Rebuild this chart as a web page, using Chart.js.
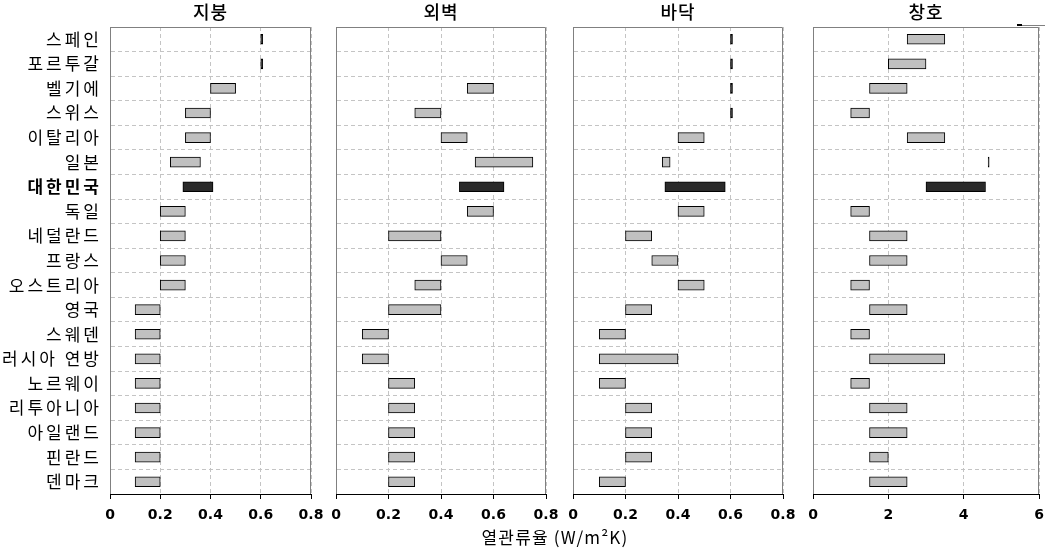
<!DOCTYPE html>
<html><head><meta charset="utf-8">
<script src="https://cdn.jsdelivr.net/npm/chart.js@4.4.1/dist/chart.umd.min.js"></script>
<style>
html,body{margin:0;padding:0;background:#fff;}
#wrap{position:relative;width:1045px;height:549px;overflow:hidden;background:#fff;}
canvas{position:absolute;top:0;}
.ttl{position:absolute;top:0;font-family:"Noto Sans CJK KR","Noto Sans",sans-serif;font-size:18px;font-weight:500;line-height:22px;text-align:center;color:#000;letter-spacing:1px;}
#xt{position:absolute;left:430px;width:250px;top:526px;font-family:"Noto Sans CJK KR","Noto Sans",sans-serif;font-size:17px;line-height:22px;text-align:center;color:#000;letter-spacing:1.2px;}
#lg{position:absolute;left:1017px;top:25px;width:28px;height:1px;background:#808080;}
#lg2{position:absolute;left:1017px;top:24px;width:5px;height:2px;background:#000;}
</style></head>
<body><div id="wrap">
<canvas id="c1" width="335" height="549" style="left:0px"></canvas>
<canvas id="c2" width="240" height="549" style="left:326px"></canvas>
<canvas id="c3" width="240" height="549" style="left:563px"></canvas>
<canvas id="c4" width="252" height="549" style="left:803px"></canvas>
<div class="ttl" style="left:110px;width:201px">지붕</div>
<div class="ttl" style="left:336px;width:210px">외벽</div>
<div class="ttl" style="left:573px;width:210px">바닥</div>
<div class="ttl" style="left:813px;width:226px">창호</div>
<div id="xt">열관류율 (W/m²K)</div>
<div id="lg"></div><div id="lg2"></div>
</div>
<script>
const categories = ['스페인','포르투갈','벨기에','스위스','이탈리아','일본','대한민국','독일','네덜란드','프랑스','오스트리아','영국','스웨덴','러시아 연방','노르웨이','리투아니아','아일랜드','핀란드','덴마크'];
const roofMin  = [0.6,0.6,0.4,0.3,0.3,0.24,0.29,0.2,0.2,0.2,0.2,0.1,0.1,0.1,0.1,0.1,0.1,0.1,0.1];
const roofMax  = [0.6,0.6,0.5,0.4,0.4,0.36,0.41,0.3,0.3,0.3,0.3,0.2,0.2,0.2,0.2,0.2,0.2,0.2,0.2];
const wallMin  = [null,null,0.5,0.3,0.4,0.53,0.47,0.5,0.2,0.4,0.3,0.2,0.1,0.1,0.2,0.2,0.2,0.2,0.2];
const wallMax  = [null,null,0.6,0.4,0.5,0.75,0.64,0.6,0.4,0.5,0.4,0.4,0.2,0.2,0.3,0.3,0.3,0.3,0.3];
const floorMin = [0.6,0.6,0.6,0.6,0.4,0.34,0.35,0.4,0.2,0.3,0.4,0.2,0.1,0.1,0.1,0.2,0.2,0.2,0.1];
const floorMax = [0.6,0.6,0.6,0.6,0.5,0.37,0.58,0.5,0.3,0.4,0.5,0.3,0.2,0.4,0.2,0.3,0.3,0.3,0.2];
const winMin   = [2.5,2.0,1.5,1.0,2.5,4.65,3.0,1.0,1.5,1.5,1.0,1.5,1.0,1.5,1.0,1.5,1.5,1.5,1.5];
const winMax   = [3.5,3.0,2.5,1.5,3.5,4.65,4.58,1.5,2.5,2.5,1.5,2.5,1.5,3.5,1.5,2.5,2.5,2.0,2.5];
const roofTicks = ['0','0.2','0.4','0.6','0.8'];
const winTicks = ['0','2','4','6'];
const highlight = '대한민국';

const frame = {
  id:'frame',
  afterDatasetsDraw(chart){
    chart.ctx.letterSpacing = '3px';
  },
  afterDraw(chart){
    const a = chart.chartArea, ctx = chart.ctx;
    ctx.letterSpacing = '0px';
    ctx.save();
    ctx.strokeStyle = '#808080'; ctx.lineWidth = 1;
    ctx.beginPath();
    ctx.moveTo(a.left+0.5, a.bottom); ctx.lineTo(a.left+0.5, a.top+0.5);
    ctx.lineTo(a.right-0.5, a.top+0.5); ctx.lineTo(a.right-0.5, a.bottom);
    ctx.stroke();
    ctx.strokeStyle = '#000';
    ctx.beginPath(); ctx.moveTo(a.left, a.bottom+0.5); ctx.lineTo(a.right, a.bottom+0.5); ctx.stroke();
    ctx.restore();
  }
};

function makeChart(id, mins, maxs, maxX, step, showLabels, pad, minLen){
  const data = mins.map((v,i)=> v===null ? null : [v, maxs[i]]);
  new Chart(document.getElementById(id), {
    type:'bar',
    data:{labels:categories, datasets:[{
      data,
      backgroundColor: c => {
        const i = c.dataIndex;
        if (mins[i]!==null && mins[i]===maxs[i]) return '#000';
        return categories[i]===highlight ? '#2a2a2a' : '#c0c0c0';
      },
      borderColor:'#000', borderWidth:1, borderSkipped:false,
      barThickness:10, minBarLength:minLen
    }]},
    options:{
      indexAxis:'y', responsive:false, animation:false,
      layout:{padding:{left:pad[0], right:pad[1], top:27, bottom:0}},
      plugins:{legend:{display:false}, tooltip:{enabled:false}, title:{display:false}},
      scales:{
        x:{min:0, max:maxX, ticks:{stepSize:step, color:'#000', padding:4,
             font:{family:'DejaVu Sans', size:14, weight:'bold', lineHeight:1.7}},
           grid:{color:'#c4c4c4', tickColor:'#000', tickLength:5, drawTicks:true},
           border:{display:true, color:'#000', dash:[4,3]},
           afterFit:s=>{s.height=55;}},
        y:{ticks:{z:1, display:showLabels, color:'#000', padding:8,
             font: c => ({family:'"Noto Sans CJK KR"', size:17, weight: (c.tick && c.tick.label===highlight) ? 'bold':'normal'})},
           grid:{color:'#c4c4c4', drawTicks:false},
           border:{display:true, color:'#808080', dash:[4,3]},
           afterFit:s=>{s.width= showLabels ? 110 : 0;}}
      }
    },
    plugins:[frame]
  });
}
makeChart('c1', roofMin, roofMax, 0.8, 0.2, true, [0,24], 2);
makeChart('c2', wallMin, wallMax, 0.8, 0.2, false, [10,20], 2);
makeChart('c3', floorMin, floorMax, 0.8, 0.2, false, [10,20], 2);
makeChart('c4', winMin, winMax, 6, 2, false, [10,16], 1);
</script>
</body></html>
